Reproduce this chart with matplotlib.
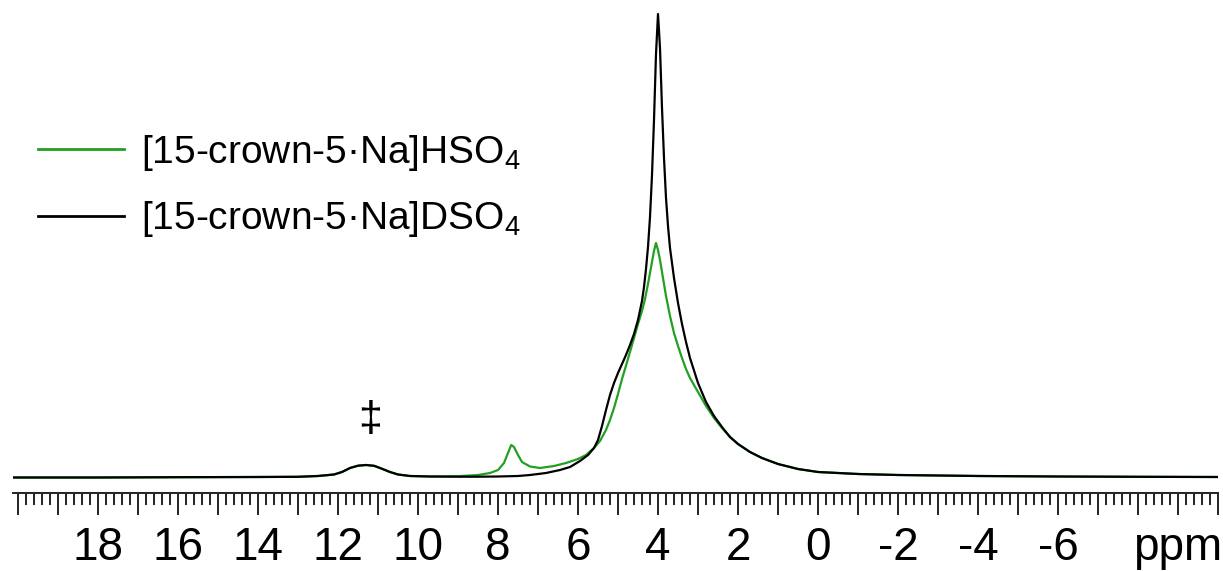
import matplotlib
matplotlib.use("Agg")
import matplotlib.pyplot as plt
from matplotlib.ticker import FixedLocator, MultipleLocator, FuncFormatter

plt.rcParams['font.family'] = ['Liberation Sans', 'DejaVu Sans']
plt.rcParams['mathtext.fontset'] = 'custom'
plt.rcParams['mathtext.rm'] = 'Liberation Sans'
plt.rcParams['mathtext.it'] = 'Liberation Sans'
plt.rcParams['mathtext.default'] = 'rm'
plt.rcParams['axes.unicode_minus'] = False

# ---- data (chemical shift in ppm, intensity in arbitrary units) ----
ppm_dso4 = [20.1, 18, 16, 14, 13.0, 12.5, 12.1, 11.9, 11.7, 11.5, 11.3, 11.1, 10.95, 10.7,
            10.5, 10.2, 9.7, 9.0, 8.5, 8.0, 7.5, 7.2, 6.8, 6.45, 6.2, 5.95, 5.75, 5.6,
            5.5, 5.4, 5.3, 5.2, 5.1, 5.0, 4.9, 4.8, 4.7, 4.6, 4.5, 4.4, 4.35, 4.3,
            4.25, 4.2, 4.15, 4.1, 4.05, 4.0, 3.95, 3.9, 3.85, 3.8, 3.75, 3.7, 3.6, 3.5,
            3.4, 3.3, 3.2, 3.0, 2.8, 2.6, 2.4, 2.2, 2.0, 1.7, 1.4, 1.0, 0.5, 0.0,
            -1, -2, -4, -6, -8, -10.0]
int_dso4 = [0.5, 0.5, 0.8, 1.0, 1.2, 2.0, 3.5, 6, 10, 12.3, 13, 12.2, 10, 6,
            3.5, 2, 1.5, 1.3, 1.3, 1.5, 2, 3, 5, 8, 11, 17, 23, 30,
            38, 52, 68, 83, 95, 105, 114, 123, 133, 144, 158, 177, 191, 209,
            231, 261, 303, 358, 424, 464, 430, 370, 320, 280, 252, 230, 200, 175,
            154, 136, 120, 95, 76, 62, 51, 41, 34, 26, 20, 14, 9, 6,
            4, 3, 2, 1.5, 1.2, 1]

ppm_hso4 = [20.1, 18, 16, 14, 13.0, 12.5, 12.1, 11.9, 11.7, 11.5, 11.3, 11.1, 10.95, 10.7,
            10.5, 10.2, 9.7, 9.0, 8.5, 8.2, 8.0, 7.85, 7.75, 7.67, 7.6, 7.5, 7.4, 7.2,
            6.95, 6.6, 6.3, 6.0, 5.8, 5.6, 5.45, 5.3, 5.2, 5.1, 5.0, 4.9, 4.78, 4.7,
            4.6, 4.5, 4.4, 4.33, 4.25, 4.2, 4.15, 4.1, 4.05, 4.0, 3.95, 3.9, 3.85, 3.8,
            3.7, 3.6, 3.5, 3.4, 3.3, 3.2, 3.0, 2.8, 2.6, 2.4, 2.2, 2.0, 1.7, 1.4,
            1.0, 0.5, 0.0, -1, -2, -4, -6, -8, -10.0]
int_hso4 = [0.5, 0.5, 0.8, 1.0, 1.2, 2.0, 3.5, 6, 10, 12.3, 13, 12.2, 10, 6,
            3.5, 2, 1.5, 1.8, 3, 5, 8, 15, 25, 33, 31, 23, 16, 11.5,
            10, 12, 15, 19, 23, 30, 37, 48, 58, 70, 84, 99, 115, 126,
            140, 154, 167, 178, 194, 205, 216, 227, 235, 228, 218, 206, 194, 182,
            162, 145, 132, 120, 109, 100, 86, 72, 60, 50, 41, 34, 26, 20,
            14, 9, 6, 4, 3, 2, 1.5, 1.2, 1]

labels = ['[15-crown-5·Na]HSO$_4$', '[15-crown-5·Na]DSO$_4$']
colors = ['#22a022', '#000000']
tick_labels = {18: '18', 16: '16', 14: '14', 12: '12', 10: '10', 8: '8', 6: '6',
               4: '4', 2: '2', 0: '0', -2: '-2', -4: '-4', -6: '-6', -9: 'ppm'}

fig = plt.figure(figsize=(12.23, 5.71), dpi=100)
ax = fig.add_axes([13 / 1223, 78 / 571, 1205 / 1223, 493 / 571])

ax.plot(ppm_hso4, int_hso4, color=colors[0], lw=1.6, label=labels[0])
ax.plot(ppm_dso4, int_dso4, color=colors[1], lw=1.6, label=labels[1])

ax.set_xlim(20.125, -10.0)
ax.set_ylim(-15, 478)

for s in ['top', 'left', 'right']:
    ax.spines[s].set_visible(False)
ax.spines['bottom'].set_linewidth(1.4)
ax.spines['bottom'].set_color('#222222')
ax.set_yticks([])

ax.xaxis.set_major_locator(FixedLocator(list(range(-10, 21))))
ax.xaxis.set_minor_locator(MultipleLocator(0.2))
ax.xaxis.set_major_formatter(FuncFormatter(lambda v, p: tick_labels.get(int(round(v)), '')))
ax.tick_params(axis='x', which='major', length=15.5, width=1.4, color='#222222',
               labelsize=33, pad=8.5, direction='out')
ax.tick_params(axis='x', which='minor', length=8.5, width=1.4, color='#222222', direction='out')

ax.text(11.2, 58, '‡', ha='center', va='center', fontsize=31)

leg = ax.legend(loc='center left', bbox_to_anchor=(38 / 1223, 1 - 186 / 571),
                bbox_transform=fig.transFigure, frameon=False, fontsize=28,
                handlelength=2.2, handletextpad=0.45, labelspacing=0.68,
                borderpad=0, borderaxespad=0)
for line in leg.get_lines():
    line.set_linewidth(2.0)

fig.savefig('out.png', dpi=100)
